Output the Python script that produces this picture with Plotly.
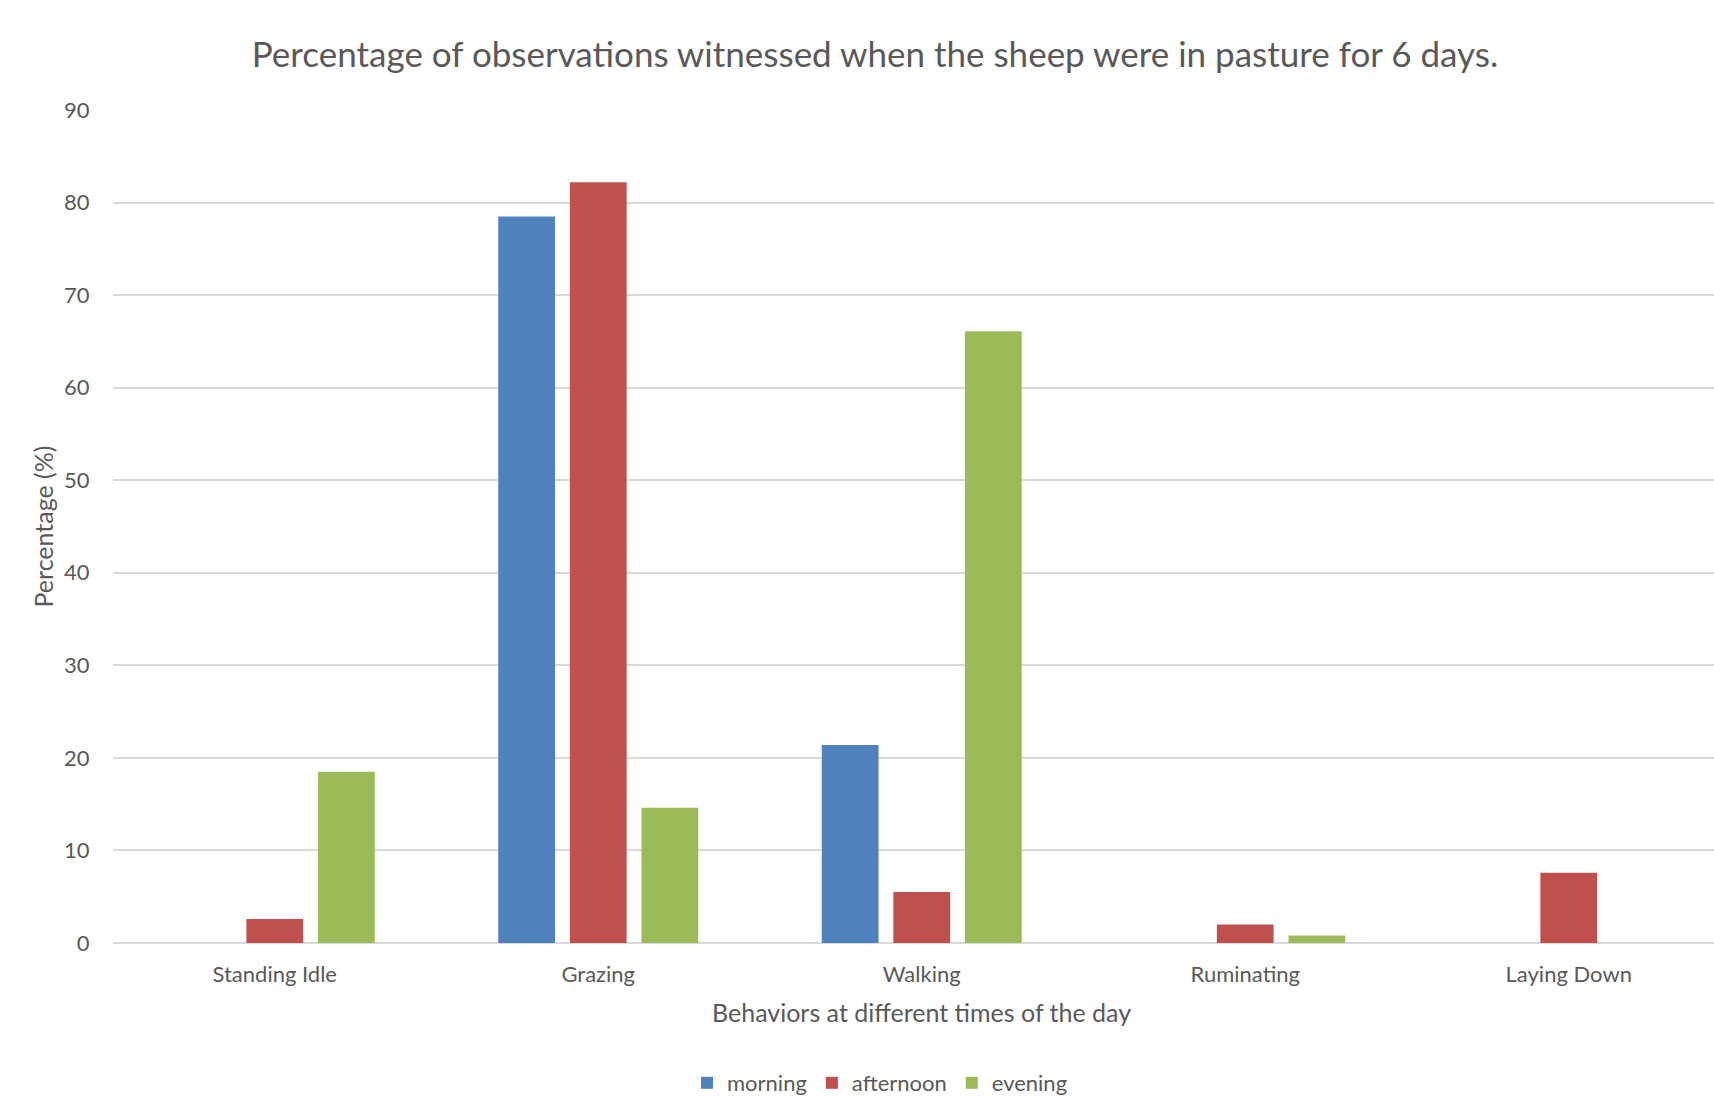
import plotly.graph_objects as go

categories = ["Standing Idle", "Grazing", "Walking", "Ruminating", "Laying Down"]
morning = [0, 78.5, 21.4, 0, 0]
afternoon = [2.6, 82.2, 5.5, 2.0, 7.6]
evening = [18.5, 14.6, 66.1, 0.8, 0]
series_names = ["morning", "afternoon", "evening"]
series_colors = ["#4F81BD", "#C0504D", "#9BBB59"]

FONT = "Lato"
TXT = "#595959"

fig = go.Figure()
for name, vals, col in zip(series_names, [morning, afternoon, evening], series_colors):
    fig.add_trace(go.Bar(
        x=categories, y=vals, name=name,
        marker=dict(color=col, line=dict(width=0)),
    ))

# plot area: x 113..1714, y 110..943 (px)
fig.add_annotation(
    text="Behaviors at different times of the day",
    xref="paper", yref="paper", x=(921 - 113) / 1601, y=(943 - 1012) / 833,
    xanchor="center", yanchor="middle", showarrow=False,
    font=dict(family=FONT, size=25, color=TXT),
)

fig.update_layout(
    width=1714, height=1098,
    paper_bgcolor="white", plot_bgcolor="white",
    margin=dict(l=113, r=0, t=110, b=155),
    barmode="group", bargap=0.336, bargroupgap=0.207,
    font=dict(family=FONT, color=TXT),
    title=dict(
        text="Percentage of observations witnessed when the sheep were in pasture for 6 days.",
        x=875 / 1714, xanchor="center", xref="container",
        y=1 - 55 / 1098, yanchor="middle", yref="container",
        font=dict(family=FONT, size=35, color=TXT),
    ),
    showlegend=True,
    legend=dict(
        orientation="h", xref="container", yref="container",
        x=880 / 1714, xanchor="center", y=(1098 - 1083) / 1098, yanchor="middle",
        font=dict(family=FONT, size=22, color=TXT),
        itemwidth=30, traceorder="normal",
    ),
    xaxis=dict(
        range=[-0.5, 4.449], showgrid=False, zeroline=False, showline=False,
        ticks="outside", ticklen=12, tickcolor="rgba(0,0,0,0)",
        tickfont=dict(family=FONT, size=22, color=TXT),
    ),
    yaxis=dict(
        range=[0, 90], dtick=10, showgrid=True, gridcolor="#D9D9D9", gridwidth=1.5,
        zeroline=True, zerolinecolor="#D9D9D9", zerolinewidth=1.5, showline=False,
        ticks="outside", ticklen=18, tickcolor="rgba(0,0,0,0)",
        tickfont=dict(family=FONT, size=22, color=TXT),
        title=dict(text="Percentage (%)", font=dict(family=FONT, size=25, color=TXT), standoff=3),
    ),
)

fig.write_html("out.html")
